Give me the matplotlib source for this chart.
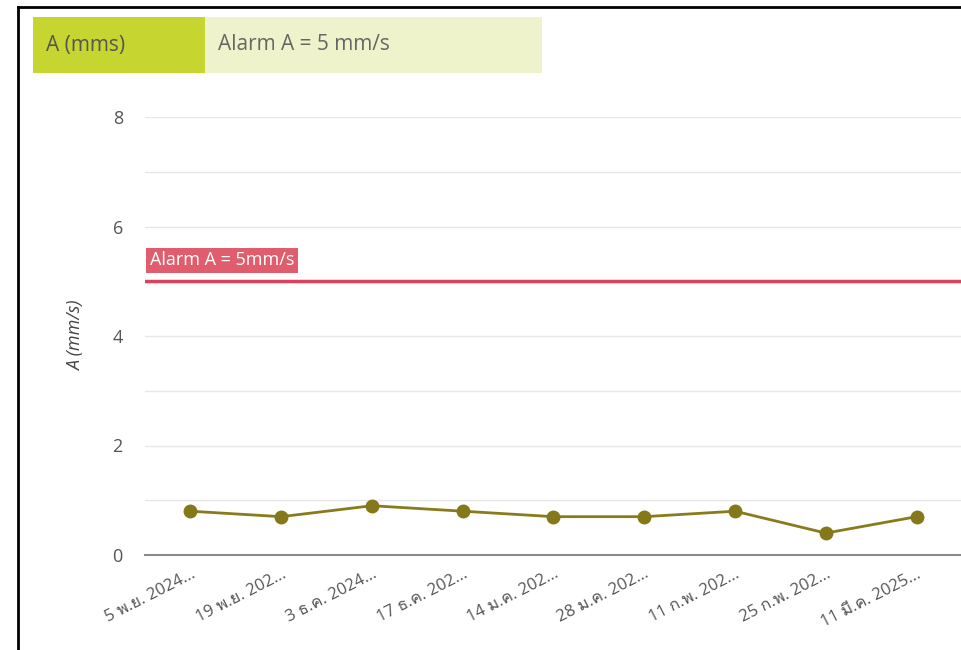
import matplotlib.pyplot as plt
from matplotlib import font_manager, ft2font
from matplotlib.lines import Line2D
from matplotlib.patches import Rectangle

# data
dates = ['5 พ.ย. 2024...', '19 พ.ย. 202...', '3 ธ.ค. 2024...', '17 ธ.ค. 202...',
         '14 ม.ค. 202...', '28 ม.ค. 202...', '11 ก.พ. 202...', '25 ก.พ. 202...',
         '11 มี.ค. 2025...']
values = [0.8, 0.7, 0.9, 0.8, 0.7, 0.7, 0.8, 0.4, 0.7]
alarm = 5
yticks = [0, 2, 4, 6, 8]

# look for any installed font that has Thai letters
thai = []
for f in font_manager.fontManager.ttflist:
    try:
        cmap = ft2font.FT2Font(f.fname).get_charmap()
    except Exception:
        continue
    if ord('ก') in cmap and f.name not in thai:
        thai.append(f.name)

plt.rcParams['font.family'] = ['Open Sans'] + thai[:1] + ['DejaVu Sans']

W, H = 962, 650
fig = plt.figure(figsize=(W / 100, H / 100), dpi=100)
ax = fig.add_axes([145 / W, 1 - 555 / H, 1 - 145 / W, (555 - 117) / H])

x = list(range(len(dates)))
ax.plot(x, values, '-o', color='#877b1c', linewidth=2, markersize=9,
        markerfacecolor='#857818', markeredgecolor='#857818', zorder=3)

ax.axhline(alarm, color='#d8435a', linewidth=2.5, zorder=2)
ax.text(0.006, alarm + 0.22, 'Alarm A = 5mm/s', transform=ax.get_yaxis_transform(),
        color='white', fontsize=13, va='bottom', ha='left',
        bbox=dict(boxstyle='square,pad=0.2', facecolor='#df5d6c', edgecolor='none'))

ax.set_xlim(-0.5, len(dates) - 0.5)
ax.set_ylim(0, 8)
ax.set_yticks(yticks)
ax.set_yticks(range(0, 9), minor=True)
ax.grid(axis='y', which='both', color='#e8e8e8', linewidth=1)
ax.set_axisbelow(True)
for side in ['top', 'right', 'left']:
    ax.spines[side].set_visible(False)
ax.spines['bottom'].set_color('#8a8a8a')
ax.spines['bottom'].set_linewidth(1.5)
ax.tick_params(axis='y', which='both', length=0, pad=16, labelsize=13, labelcolor='#555555')
ax.tick_params(axis='x', length=0, pad=8, labelsize=12, labelcolor='#555555')
ax.set_xticks(x)
ax.set_xticklabels(dates, rotation=27, ha='right', rotation_mode='anchor')
ax.set_ylabel('A (mm/s)', fontsize=13, color='#444444', style='italic', labelpad=20)

# legend boxes on top
fig.patches.append(Rectangle((33 / W, 1 - 73 / H), 172 / W, 56 / H,
                             transform=fig.transFigure, facecolor='#c6d52f', edgecolor='none'))
fig.patches.append(Rectangle((205 / W, 1 - 73 / H), 337 / W, 56 / H,
                             transform=fig.transFigure, facecolor='#eef3cb', edgecolor='none'))
fig.text(46 / W, 1 - 45 / H, 'A (mms)', fontsize=15, color='#555555', va='center')
fig.text(218 / W, 1 - 45 / H, 'Alarm A = 5 mm/s', fontsize=15, color='#666666', va='center')

# frame of the screenshot
fig.add_artist(Line2D([18 / W, 1], [1 - 7 / H, 1 - 7 / H], transform=fig.transFigure,
                      color='black', linewidth=2))
fig.add_artist(Line2D([18 / W, 18 / W], [0, 1 - 7 / H], transform=fig.transFigure,
                      color='black', linewidth=2))

fig.savefig('out.png', dpi=100)
